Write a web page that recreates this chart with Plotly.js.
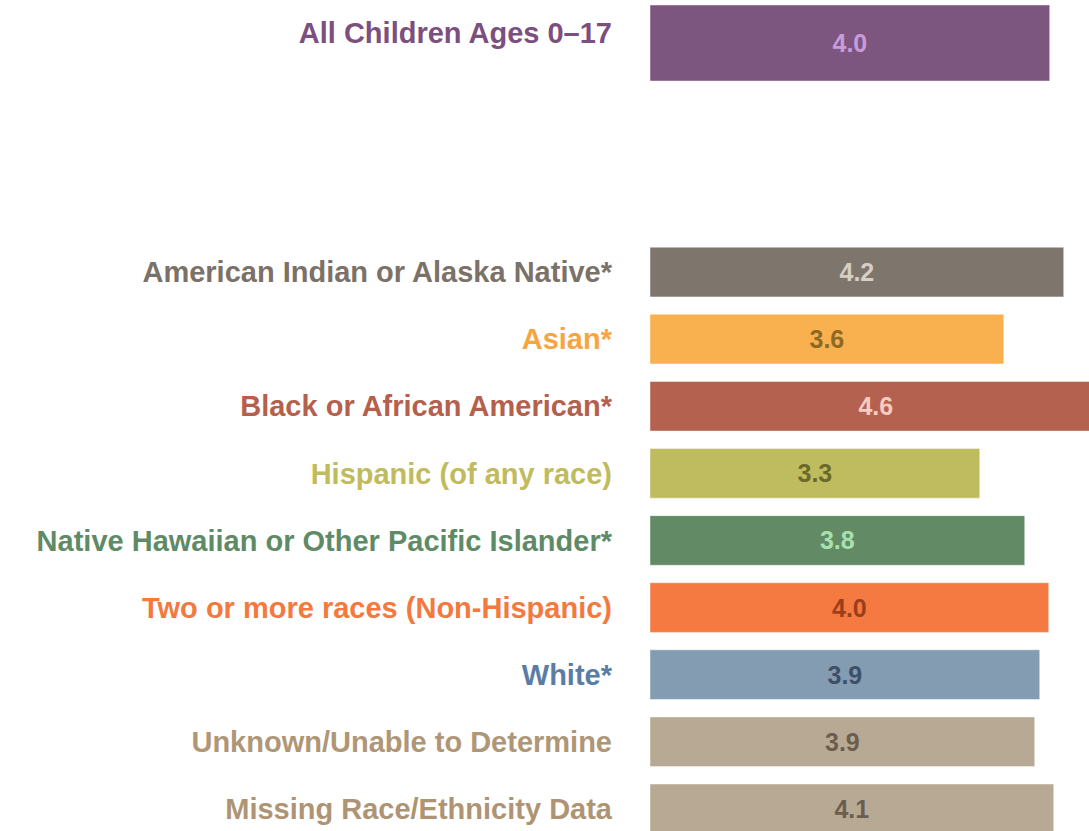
<!DOCTYPE html>
<html>
<head>
<meta charset="utf-8">
<script src="https://cdn.plot.ly/plotly-3.0.1.min.js"></script>
<style>html,body{margin:0;padding:0;background:#fff;}#chart{width:1089px;height:831px;}</style>
</head>
<body>
<div id="chart"></div>
<script>
// ---- data ----
const overallCategory = ["All Children Ages 0–17"];
const overallValue = [4.00];
const overallLabel = ["4.0"];

const categories = [
  "American Indian or Alaska Native*",
  "Asian*",
  "Black or African American*",
  "Hispanic (of any race)",
  "Native Hawaiian or Other Pacific Islander*",
  "Two or more races (Non-Hispanic)",
  "White*",
  "Unknown/Unable to Determine",
  "Missing Race/Ethnicity Data"
];
const values = [4.14, 3.54, 4.52, 3.30, 3.75, 3.99, 3.90, 3.85, 4.04];
const valueLabels = ["4.2", "3.6", "4.6", "3.3", "3.8", "4.0", "3.9", "3.9", "4.1"];

// ---- styles ----
const overallBarColor = ["#7D5680"];
const overallLabelColor = "#7B4F7E";
const overallTextColor = ["#C99BD8"];
const barColors = ["#7E766D", "#F9B04E", "#B5614F", "#BFBC60", "#628B65", "#F47A42", "#839CB2", "#B8A995", "#B8A995"];
const labelColors = ["#7B7168", "#F7A540", "#B55F4D", "#C0BB5C", "#5E8B66", "#F3793E", "#5A7DA8", "#AE9676", "#AE9474"];
const textColors = ["#D7CEC6", "#8C6A25", "#F6CCC0", "#6B6A2A", "#A9E0B0", "#9A3F1B", "#3D5068", "#6C5E4F", "#6C5E4F"];

const FONT = "'Liberation Sans', Arial, sans-serif";
const span = (t, c) => '<span style="color:' + c + '">' + t + '</span>';

const traces = [
  {
    type: "bar", orientation: "h",
    x: overallValue, y: overallCategory,
    xaxis: "x", yaxis: "y2",
    width: 1.152, offset: -0.424,
    marker: {color: overallBarColor, line: {color: "rgba(255,255,255,0.45)", width: 1}},
    text: overallLabel, textposition: "inside", insidetextanchor: "middle",
    constraintext: "none", cliponaxis: true,
    textfont: {family: FONT, size: 25, weight: "bold", color: overallTextColor},
    hoverinfo: "skip"
  },
  {
    type: "bar", orientation: "h",
    x: values, y: categories,
    xaxis: "x", yaxis: "y",
    width: 0.74,
    marker: {color: barColors, line: {color: "rgba(255,255,255,0.45)", width: 1}},
    text: valueLabels, textposition: "inside", insidetextanchor: "middle",
    constraintext: "none", cliponaxis: true,
    textfont: {family: FONT, size: 25, weight: "bold", color: textColors},
    hoverinfo: "skip"
  }
];

const layout = {
  width: 1089, height: 831,
  margin: {l: 650, r: 0, t: 0, b: 0, pad: 0},
  paper_bgcolor: "#fff", plot_bgcolor: "#fff",
  showlegend: false,
  font: {family: FONT},
  xaxis: {
    range: [0, 4.393], showgrid: false, zeroline: false, showline: false,
    showticklabels: false, ticks: "", fixedrange: true, anchor: "y"
  },
  yaxis: {
    domain: [0, 0.7130], type: "category",
    range: [8.33, -0.5], autorange: false,
    showgrid: false, zeroline: false, showline: false, ticks: "",
    tickmode: "array", tickvals: categories,
    ticktext: categories.map((c, i) => span(c, labelColors[i])),
    tickfont: {family: FONT, size: 29, weight: "bold"},
    ticklabelstandoff: 37, automargin: false
  },
  yaxis2: {
    domain: [0.8797, 1], type: "category", anchor: "x",
    range: [1.015, -0.5], autorange: false,
    showgrid: false, zeroline: false, showline: false, ticks: "",
    tickmode: "array", tickvals: overallCategory,
    ticktext: overallCategory.map(c => span(c, overallLabelColor)),
    tickfont: {family: FONT, size: 29, weight: "bold"},
    ticklabelstandoff: 37, automargin: false
  },
  bargap: 0
};

Plotly.newPlot("chart", traces, layout, {displayModeBar: false, staticPlot: true});
</script>
</body>
</html>
